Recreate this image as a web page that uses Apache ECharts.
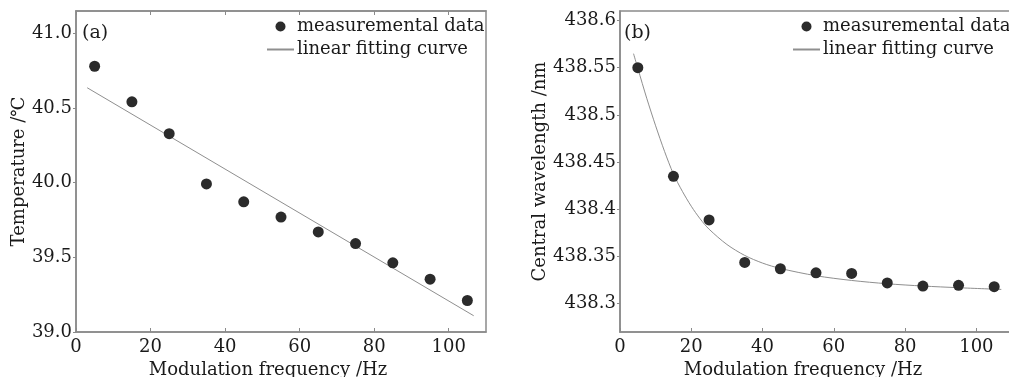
<!DOCTYPE html>
<html><head><meta charset="utf-8">
<script src="https://cdn.jsdelivr.net/npm/echarts@6/dist/echarts.min.js"></script>
<style>html,body{margin:0;padding:0;background:#fff}#c{width:1009px;height:377px}</style>
</head><body><div id="c"></div>
<script>
// ---- data (a) ----
const freqA = [5, 15, 25, 35, 45, 55, 65, 75, 85, 95, 105];
const tempA = [40.78, 40.542, 40.328, 39.992, 39.872, 39.77, 39.67, 39.592, 39.463, 39.354, 39.211];
const fitAX = [3.0, 106.7];
const fitAY = [40.636, 39.109];
// ---- data (b) ----
const freqB = [5, 15, 25, 35, 45, 55, 65, 75, 85, 95, 105];
const waveB = [438.55, 438.4349, 438.3887, 438.3437, 438.337, 438.3327, 438.332, 438.322, 438.3187, 438.3194, 438.318];
const fitBX = [3.8, 5, 7.5, 10, 12.5, 15, 17.5, 20, 22.5, 25, 30, 35, 40, 45, 55, 65, 75, 85, 95, 107];
const fitBY = [438.5648, 438.5493, 438.5176, 438.4884, 438.4613, 438.4373, 438.419, 438.4032, 438.3898, 438.3789,
               438.3627, 438.3511, 438.343, 438.3373, 438.3296, 438.3246, 438.3211, 438.3187, 438.3169, 438.3151];
// ---- ticks ----
const xTicks = [0, 20, 40, 60, 80, 100];
const yTicksA = [39.0, 39.5, 40.0, 40.5, 41.0];
const yTicksB = [438.3, 438.35, 438.4, 438.45, 438.5, 438.55, 438.6];
const xName = 'Modulation frequency /Hz';
const yNameA = 'Temperature /℃';
const yNameB = 'Central wavelength /nm';
const scatterName = 'measuremental data';
const lineName = 'linear fitting curve';

const zip = (a, b) => a.map((v, i) => [v, b[i]]);
const FONT = 'DejaVu Serif';
const TXT = '#1a1a1a';
const AX = '#8a8a8a';
const axisLine = { show: true, lineStyle: { color: AX, width: 1.5 } };
const lblStyle = { fontFamily: FONT, fontSize: 18, color: TXT };

function xAxis(grid, top) {
  return {
    type: 'value', gridIndex: grid, min: 0, max: 110,
    position: top ? 'top' : 'bottom',
    splitLine: { show: false },
    axisLine: axisLine,
    axisTick: { show: true, inside: true, length: 4, lineStyle: { color: AX, width: 1 }, customValues: xTicks },
    axisLabel: top ? { show: false } : Object.assign({ margin: 6, customValues: xTicks }, lblStyle),
    name: top ? '' : xName, nameLocation: 'middle', nameGap: 26,
    nameTextStyle: Object.assign({ padding: [0, 26, 0, 0] }, lblStyle)
  };
}
function yAxis(grid, min, max, ticks, name, gap, fmt) {
  return {
    type: 'value', gridIndex: grid, min: min, max: max,
    splitLine: { show: false },
    axisLine: axisLine,
    axisTick: { show: true, inside: false, length: 3, lineStyle: { color: AX, width: 1 }, customValues: ticks },
    axisLabel: Object.assign({ margin: 4, customValues: ticks, formatter: fmt }, lblStyle),
    name: name, nameLocation: 'middle', nameGap: gap, nameRotate: 90,
    nameTextStyle: lblStyle
  };
}
function legend(left) {
  return {
    orient: 'vertical', left: left, top: 17, padding: 0, itemWidth: 27, itemHeight: 10, itemGap: 4,
    textStyle: Object.assign({ lineHeight: 19, padding: [0, 0, 0, -2] }, lblStyle),
    data: [
      { name: scatterName, icon: 'circle' },
      { name: lineName, itemStyle: { color: 'rgba(0,0,0,0)', borderWidth: 0, opacity: 0 } }
    ]
  };
}

const chart = echarts.init(document.getElementById('c'), null, { renderer: 'canvas' });
chart.setOption({
  animation: false,
  backgroundColor: '#fff',
  grid: [
    { left: 76, top: 11, width: 410, height: 321, show: true, borderColor: AX, borderWidth: 1.5,
      containLabel: false, outerBoundsMode: 'none' },
    { left: 620, top: 11, width: 392, height: 321, show: true, borderColor: AX, borderWidth: 1.5,
      containLabel: false, outerBoundsMode: 'none' }
  ],
  xAxis: [xAxis(0, false), xAxis(1, false), xAxis(0, true)],
  yAxis: [
    yAxis(0, 39.0, 41.15, yTicksA, yNameA, 44, v => v.toFixed(1)),
    yAxis(1, 438.27, 438.61, yTicksB, yNameB, 63, v => String(Math.round(v * 100) / 100))
  ],
  legend: [legend(266), legend(792)],
  graphic: [
    { type: 'text', left: 82, top: 24, style: { text: '(a)', font: '19px "DejaVu Serif"', fill: TXT } },
    { type: 'text', left: 624, top: 24, style: { text: '(b)', font: '19px "DejaVu Serif"', fill: TXT } }
  ],
  series: [
    { name: lineName, type: 'line', xAxisIndex: 0, yAxisIndex: 0, data: zip(fitAX, fitAY),
      symbol: 'none', lineStyle: { color: '#8f8f8f', width: 1 }, itemStyle: { color: '#8f8f8f' }, z: 2 },
    { name: scatterName, type: 'scatter', xAxisIndex: 0, yAxisIndex: 0, data: zip(freqA, tempA),
      symbolSize: 11, itemStyle: { color: '#2b2b2b', opacity: 1 }, z: 3 },
    { name: lineName, type: 'line', xAxisIndex: 1, yAxisIndex: 1, data: zip(fitBX, fitBY),
      symbol: 'none', smooth: 0.3, lineStyle: { color: '#8f8f8f', width: 1 }, itemStyle: { color: '#8f8f8f' }, z: 2 },
    { name: scatterName, type: 'scatter', xAxisIndex: 1, yAxisIndex: 1, data: zip(freqB, waveB),
      symbolSize: 11, itemStyle: { color: '#2b2b2b', opacity: 1 }, z: 3 }
  ]
});
</script></body></html>
